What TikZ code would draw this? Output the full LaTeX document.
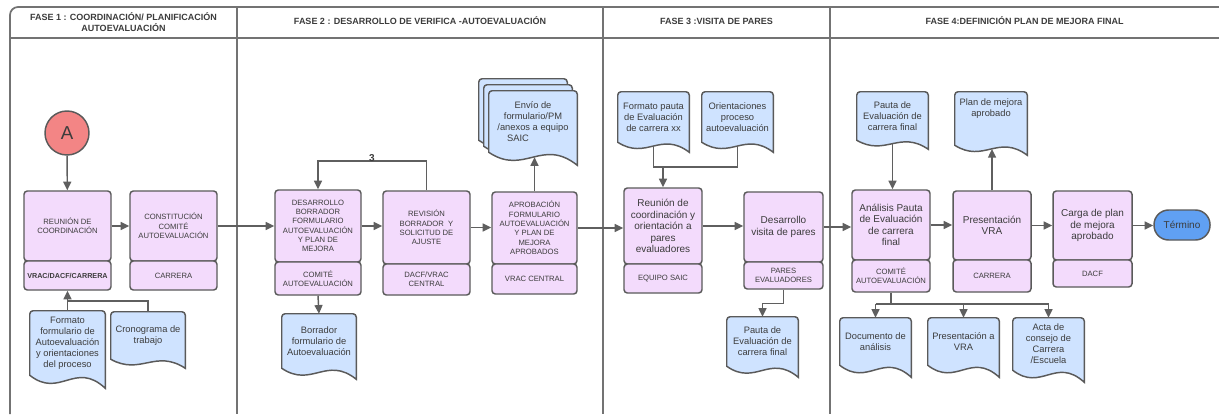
\documentclass[tikz,border=0pt]{standalone}
\usepackage{fontspec}
\setmainfont{Liberation Sans}
\usetikzlibrary{arrows.meta,calc,backgrounds}
\definecolor{procc}{RGB}{243,219,252}
\definecolor{docc}{RGB}{207,227,255}
\definecolor{bordc}{RGB}{90,90,90}
\definecolor{linec}{RGB}{95,95,95}
\definecolor{framec}{RGB}{115,115,115}
\definecolor{textc}{RGB}{60,60,60}
\definecolor{circc}{RGB}{243,133,133}
\definecolor{termc}{RGB}{96,160,243}
\newcommand\fproc{\fontsize{7.5}{8.6}\selectfont}
\newcommand\fcap{\fontsize{5.75}{7}\selectfont}
\newcommand\fdoc{\fontsize{7}{8.2}\selectfont}
\newcommand\fhead{\fontsize{6.75}{7.8}\selectfont\bfseries}
% #1 node name, #2 wave drop (px), #3 dx (px), #4 dy (px)
\newcommand\docshape[4]{%
  \begin{pgfonlayer}{background}
  \path[docsh] let \p1=(#1.north west), \p2=(#1.south east),
     \p3=({(#3)*0.75pt},{0pt-(#4)*0.75pt}), \n1={\x2-\x1}, \n2={(#2)*0.75pt} in
     (\x1+\x3,\y2+\y3) [rounded corners=2.5pt] -- (\x1+\x3,\y1+\y3) -- (\x2+\x3,\y1+\y3) [sharp corners]
     -- (\x2+\x3,\y2-\n2+\y3)
     .. controls (\x1+0.6*\n1+\x3,\y2+1.1667*\n2+\y3) and (\x1+0.4*\n1+\x3,\y2-1.8333*\n2+\y3)
     .. (\x1+\x3,\y2+\y3) -- cycle;
  \end{pgfonlayer}}
\newcommand\docmid[2]{%
  \path let \p1=(#1.north west), \p2=(#1.south east), \n1={\x2-\x1}, \n2={(#2)*0.75pt} in
     (\x1+0.5*\n1,\y2-0.375*\n2) coordinate (#1-b);}
\tikzset{
  wh/.style 2 args={minimum width={#1*0.75pt}, minimum height={#2*0.75pt}},
  proc/.style={draw=bordc, fill=procc, line width=1.1pt, rounded corners=2.5pt,
     align=center, text=textc, inner sep=1pt, font=\fcap},
  procm/.style={proc, font=\fproc},
  doc/.style={align=center, text=textc, inner sep=1pt, font=\fdoc},
  docsh/.style={fill=docc, draw=bordc, line width=1.1pt},
  conn/.style={draw=linec, line width=1.1pt},
  arr/.style={conn, -{Triangle[length=6.5pt,width=6pt]}},
  frame/.style={draw=framec, line width=1.3pt},
  head/.style={align=center, text=textc, font=\fhead},
  circ/.style={circle, draw=bordc, fill=circc, line width=1.1pt, minimum size=33pt,
     inner sep=0pt, text=textc, font=\fontsize{14}{16}\selectfont},
  termn/.style={draw=bordc, fill=termc, line width=1.1pt, rounded corners=11pt,
     text=textc, font=\fproc, inner sep=1pt},
}
\begin{document}
\begin{tikzpicture}[x=0.75pt,y=-0.75pt]
\useasboundingbox (0,0) rectangle (1219,414);
\begin{pgfonlayer}{background}
\fill[white] (0,0) rectangle (1219,414);
\end{pgfonlayer}
% frame
\draw[frame, rounded corners=6pt] (10,414) -- (10,7) -- (1219,7);
\draw[frame] (10,38) -- (1219,38);
\draw[frame] (237,7) -- (237,414);
\draw[frame] (603,7) -- (603,414);
\draw[frame] (830,7) -- (830,414);
\node[head] (h1) at (123.5,22) {FASE 1 : COORDINACIÓN/ PLANIFICACIÓN\\AUTOEVALUACIÓN};
\node[head] (h2) at (420,21) {FASE 2 : DESARROLLO DE VERIFICA -AUTOEVALUACIÓN};
\node[head] (h3) at (716.5,21) {FASE 3 :VISITA DE PARES};
\node[head] (h4) at (1024.5,21) {FASE 4:DEFINICIÓN PLAN DE MEJORA FINAL};

% ---------- Phase 1
\node[circ] (A) at (67,133) {A};
\node[proc,wh={87}{70}] (p1) at (67.5,226) {REUNIÓN DE\\COORDINACIÓN};
\node[proc,wh={87}{29},font=\fontsize{5.4}{6.5}\selectfont\bfseries] (p1s) at (67.5,275.5) {VRAC/DACF/CARRERA};
\node[proc,wh={87}{70}] (p2) at (173.5,226) {CONSTITUCIÓN\\COMITÉ\\AUTOEVALUACIÓN};
\node[proc,wh={87}{29}] (p2s) at (173.5,275.5) {CARRERA};
\node[doc,wh={75}{64}] (d1) at (67.5,343) {Formato\\formulario de\\Autoevaluación\\y orientaciones\\del proceso};
\docshape{d1}{13}{0}{0}
\node[doc,wh={74}{47}] (d2) at (148,335.5) {Cronograma de\\trabajo};
\docshape{d2}{9}{0}{0}

% ---------- Phase 2
\node[proc,wh={86}{72}] (p3) at (318,226) {DESARROLLO\\BORRADOR\\FORMULARIO\\AUTOEVALUACIÓN\\Y PLAN DE\\MEJORA};
\node[proc,wh={86}{33}] (p3s) at (318,278.5) {COMITÉ\\AUTOEVALUACIÓN};
\node[proc,wh={87}{73}] (p4) at (426.5,227.5) {REVISIÓN\\BORRADOR\ \ Y\\SOLICITUD DE\\AJUSTE};
\node[proc,wh={87}{31}] (p4s) at (426.5,279.5) {DACF/VRAC\\CENTRAL};
\node[proc,wh={85}{72}] (p5) at (534.5,228) {APROBACIÓN\\FORMULARIO\\AUTOEVALUACIÓN\\Y PLAN DE\\MEJORA\\APROBADOS};
\node[proc,wh={85}{30}] (p5s) at (534.5,279) {VRAC CENTRAL};
\node[doc,wh={74}{54}] (d3) at (319,341) {Borrador\\formulario de\\Autoevaluación};
\docshape{d3}{11}{0}{0}
\node[doc,wh={88}{61}] (d4) at (533,121.5) {Envío de\\formulario/PM\\/anexos a equipo\\SAIC\hspace*{3.2em}};
\docshape{d4}{13}{-10}{-12}
\docshape{d4}{13}{-5}{-6}
\docshape{d4}{13}{0}{0}

% ---------- Phase 3
\node[doc,wh={71}{50}] (d5) at (653.5,117) {Formato pauta\\de Evaluación\\de carrera xx};
\docshape{d5}{10}{0}{0}
\node[doc,wh={71}{50}] (d6) at (737.5,117) {Orientaciones\\proceso\\autoevaluación};
\docshape{d6}{10}{0}{0}
\node[procm,wh={78}{76}] (p6) at (663,226) {Reunión de\\coordinación y\\orientación a\\pares\\evaluadores};
\node[proc,wh={78}{29}] (p6s) at (663,278.5) {EQUIPO SAIC};
\node[procm,wh={79}{70}] (p7) at (783.5,227) {Desarrollo\\visita de pares};
\node[proc,wh={79}{27}] (p7s) at (783.5,275.5) {PARES\\EVALUADORES};
\node[doc,wh={71}{49}] (d7) at (762.5,341.5) {Pauta de\\Evaluación de\\carrera final};
\docshape{d7}{11}{0}{0}

% ---------- Phase 4
\node[doc,wh={71}{48}] (d8) at (892.5,116) {Pauta de\\Evaluación de\\carrera final};
\docshape{d8}{9}{0}{0}
\node[doc,wh={72}{53}] (d9) at (991,118.5) {Plan de mejora\\aprobado\\[8pt]};
\docshape{d9}{10}{0}{0}
\node[procm,wh={78}{70}] (p8) at (891,225) {Análisis Pauta\\de Evaluación\\de carrera\\final};
\node[proc,wh={78}{32}] (p8s) at (891,276) {COMITÉ\\AUTOEVALUACIÓN};
\node[procm,wh={78}{69}] (p9) at (992,225.5) {Presentación\\VRA};
\node[proc,wh={78}{32}] (p9s) at (992,276) {CARRERA};
\node[procm,wh={79}{69}] (p10) at (1092.5,225.5) {Carga de plan\\de mejora\\aprobado};
\node[proc,wh={79}{27}] (p10s) at (1092.5,273.5) {DACF};
\node[termn,wh={56}{30}] (term) at (1182,225) {Término};
\node[doc,wh={71}{47}] (d10) at (875.5,341.5) {Documento de\\análisis};
\docshape{d10}{12}{0}{0}
\node[doc,wh={71}{47}] (d11) at (963.5,341.5) {Presentación a\\VRA};
\docshape{d11}{12}{0}{0}
\node[doc,wh={71}{52}] (d12) at (1048.5,344) {Acta de\\consejo de\\Carrera\\/Escuela};
\docshape{d12}{12}{0}{0}

% wave mid-points
\docmid{d4}{13}
\docmid{d5}{10}
\docmid{d6}{10}
\docmid{d8}{9}
\docmid{d9}{10}

% ---------- connectors
\draw[arr] (A) -- (p1);
\draw[arr] (p1) -- (p2);
\draw[arr] (d1.north) -- (p1s.south);
\coordinate (j1) at (67.5,301);
\draw[conn] (d2.north) |- (j1);
\draw[arr] (p2) -- (p3);
\draw[arr] (p3s.south) -- (d3.north);
\draw[arr] (p3.east) -- (p3.east -| p4.west);
\draw[arr] (p4.east) -- (p4.east -| p5.west);
\coordinate (lp) at (372,161);
\draw[arr] (p4.north) |- (lp) -| (p3.north);
\node[font=\fproc\bfseries, text=textc, inner sep=0pt] (n3) at (372,158) {3};
\draw[arr] (p5.north) -- (p5.north |- d4-b);
\draw[arr] (p5.east) -- (p5.east -| p6.west);
\coordinate (j2) at (663,167);
\draw[conn] (d5-b) |- (j2);
\draw[arr] (d6-b) |- (j2) -- (p6.north);
\draw[arr] (p6.east) -- (p6.east -| p7.west);
\draw[arr] (p7s.south) -- ++(0,14) -| (d7.north);
\draw[arr] (p7.east) -- (p7.east -| p8.west);
\draw[arr] (d8-b) -- (d8-b |- p8.north);
\draw[arr] (p8.east) -- (p8.east -| p9.west);
\draw[arr] (p9.north) -- (p9.north |- d9-b);
\draw[arr] (p9.east) -- (p9.east -| p10.west);
\draw[arr] (p10.east) -- (p10.east -| term.west);
\coordinate (j3) at (891,304);
\draw[conn] (p8s.south) -- (j3);
\draw[conn] (d10.north |- j3) -- (d12.north |- j3);
\draw[arr] (d10.north |- j3) -- (d10.north);
\draw[arr] (d11.north |- j3) -- (d11.north);
\draw[arr] (d12.north |- j3) -- (d12.north);
\end{tikzpicture}
\end{document}
